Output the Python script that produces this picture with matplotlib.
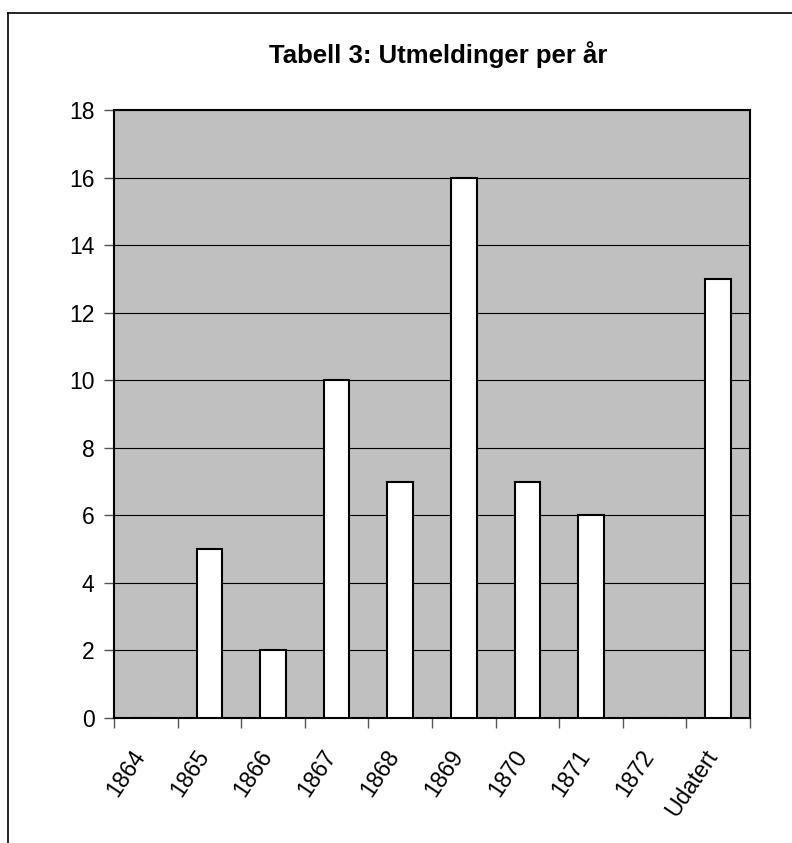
import matplotlib
matplotlib.use("Agg")
import matplotlib.pyplot as plt
from matplotlib.lines import Line2D
import numpy as np

categories = ["1864", "1865", "1866", "1867", "1868", "1869", "1870", "1871", "1872", "Udatert"]
values = [0, 5, 2, 10, 7, 16, 7, 6, 0, 13]
yticks = [0, 2, 4, 6, 8, 10, 12, 14, 16, 18]

plt.rcParams['font.family'] = ['Liberation Sans', 'DejaVu Sans']

W, H = 792, 843
fig = plt.figure(figsize=(W/100, H/100), dpi=100)
fig.patch.set_facecolor('white')

left, right, top, bottom = 114, 750, 110, 718
ax = fig.add_axes([left/W, 1 - bottom/H, (right-left)/W, (bottom-top)/H])
ax.set_facecolor('#C0C0C0')

x = np.arange(len(categories))
ax.bar(x, values, width=0.4, color='white', edgecolor='black', linewidth=1.5, zorder=3)

ax.set_xlim(-0.5, len(categories) - 0.5)
ax.set_ylim(0, 18)
ax.set_yticks(yticks)
ax.set_yticklabels([str(v) for v in yticks], fontsize=16.5)
ax.yaxis.grid(True, color='black', linewidth=0.8, zorder=1)
ax.set_axisbelow(True)

ax.set_xticks(np.arange(len(categories) + 1) - 0.5)
ax.set_xticklabels([])
ax.set_xticks(x, minor=True)
ax.set_xticklabels(categories, minor=True, rotation=56, ha='right', va='baseline',
                   rotation_mode='anchor', fontsize=16.5)
ax.tick_params(axis='x', which='minor', length=0, pad=27)
ax.tick_params(axis='x', which='major', length=7, width=1, color='#555555')
ax.tick_params(axis='y', length=7, width=1, color='#555555', pad=7)

for s in ax.spines.values():
    s.set_linewidth(1.5)
    s.set_color('black')

fig.text(438/W, 1 - 55/H, "Tabell 3: Utmeldinger per år", ha='center', va='center',
         fontsize=18.5, fontweight='bold')

# outer border (clipped on right and bottom)
fig.add_artist(Line2D([8/W, 8/W], [0, 1 - 13/H], transform=fig.transFigure, color='black', linewidth=1.2))
fig.add_artist(Line2D([8/W, 1], [1 - 13/H, 1 - 13/H], transform=fig.transFigure, color='black', linewidth=1.2))

fig.savefig("out.png", dpi=100)
